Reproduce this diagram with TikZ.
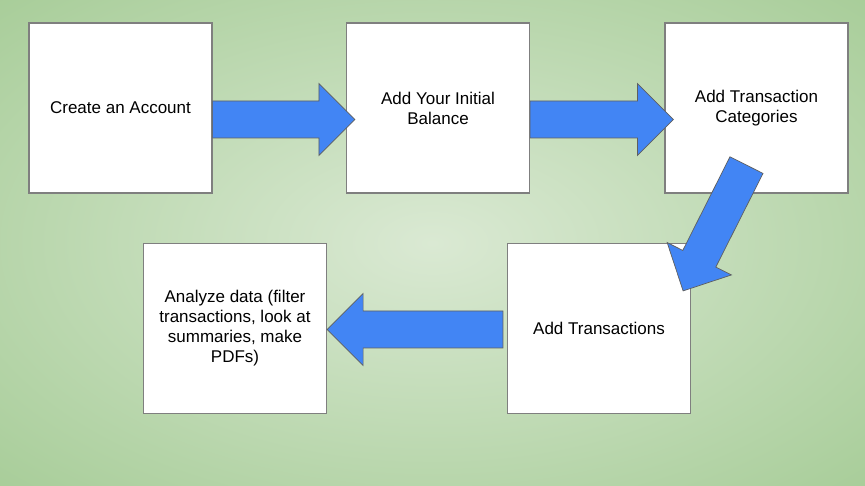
\documentclass[tikz,border=0pt]{standalone}
\usepackage{fontspec}
\setmainfont{Liberation Sans}
\usetikzlibrary{calc}
\definecolor{bgin}{HTML}{DAE9D3}
\definecolor{bgmid}{HTML}{94C282}
\definecolor{bgout}{HTML}{84B870}
\definecolor{arrowblue}{HTML}{4285F4}
\definecolor{boxline}{HTML}{7F7F7F}
\definecolor{arrowline}{HTML}{5F5F5F}
\pgfdeclareradialshading{slidebg}{\pgfpoint{0bp}{0bp}}{%
  color(0bp)=(bgin); color(50bp)=(bgmid); color(71bp)=(bgout)}

% block arrow from #1 (tail centre) to #2 (tip)
\newcommand{\blockarrow}[2]{%
  \coordinate (headbase) at ($(#2)!36pt!(#1)$);
  \draw[blockarr] ($(#1)!18.5pt!90:(#2)$) -- ($(headbase)!18.5pt!90:(#2)$)
    -- ($(headbase)!36pt!90:(#2)$) -- (#2)
    -- ($(headbase)!36pt!-90:(#2)$) -- ($(headbase)!18.5pt!-90:(#2)$)
    -- ($(#1)!18.5pt!-90:(#2)$) -- cycle;}

\begin{document}
\begin{tikzpicture}[
    x=1pt, y=-1pt,
    stepbox/.style={draw=boxline, line width=1.2pt, fill=white,
                    minimum width=183pt, minimum height=170pt,
                    align=center, inner sep=0pt,
                    font=\fontsize{17}{20}\selectfont},
    blockarr/.style={fill=arrowblue, draw=arrowline, line width=0.7pt,
                     line join=miter}
]

% ---------- background ----------
\shade[shading=slidebg] (0,0) rectangle (865,486);
\useasboundingbox (0,0) rectangle (865,486);

% ---------- steps ----------
\node[stepbox] (account)    at (120.5,108) {Create an Account};
\node[stepbox] (balance)    at (438,108)   {Add Your Initial\\Balance};
\node[stepbox] (categories) at (756.5,108) {Add Transaction\\Categories};
\node[stepbox] (addtx)      at (599,328.5) {Add Transactions};
\node[stepbox] (analyze)    at (235,328.5)
  {Analyze data (filter\\transactions, look at\\summaries, make\\PDFs)};

% ---------- arrow ends ----------
\coordinate (t1) at ([yshift=-11.5pt]account.east);
\coordinate (h1) at ([shift={(9pt,-11.5pt)}]balance.west);
\coordinate (t2) at ([yshift=-11.5pt]balance.east);
\coordinate (h2) at ([shift={(9pt,-11.5pt)}]categories.west);
\coordinate (t3) at ([shift={(-10pt,28.5pt)}]categories.south);
\coordinate (h3) at ([shift={(-8pt,-48pt)}]addtx.north east);
\coordinate (t4) at ([shift={(-4pt,-1pt)}]addtx.west);
\coordinate (h4) at ([yshift=-1pt]analyze.east);

% ---------- arrows ----------
\blockarrow{t1}{h1}
\blockarrow{t2}{h2}
\blockarrow{t3}{h3}
\blockarrow{t4}{h4}

\end{tikzpicture}
\end{document}
